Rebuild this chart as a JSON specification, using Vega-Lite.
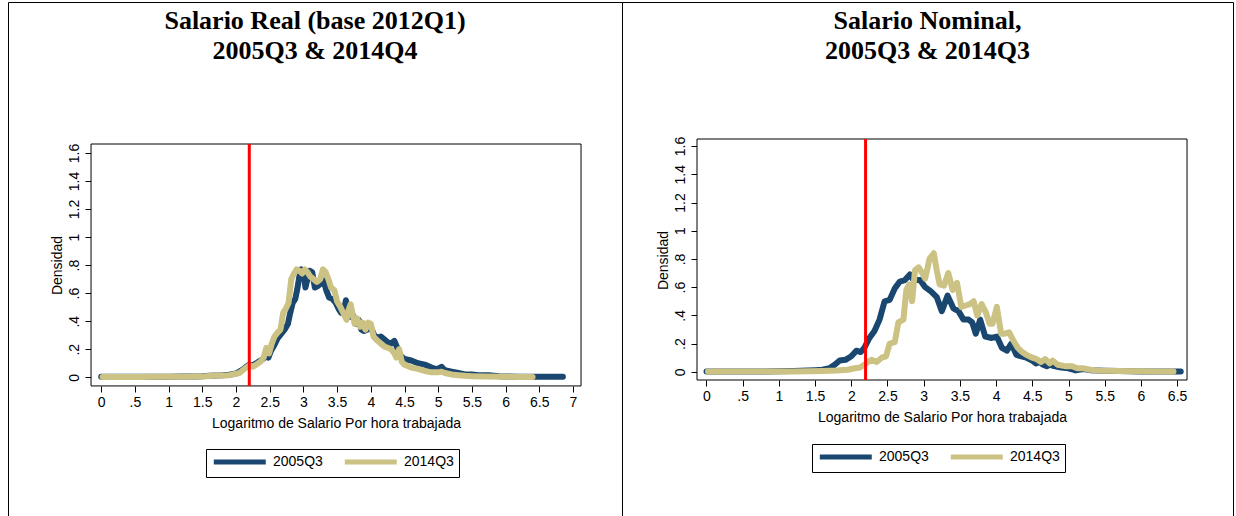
{
  "$schema": "https://vega.github.io/schema/vega-lite/v6.json",
  "background": "white",
  "padding": {"left": 7, "top": 1, "right": 4, "bottom": -2},
  "spacing": 0,
  "bounds": "flush",
  "datasets": {
    "real": [
      {"x": 0, "densidad": 0.003, "periodo": "2005Q3"}, {"x": 0.2, "densidad": 0.003, "periodo": "2005Q3"}, {"x": 0.4, "densidad": 0.003, "periodo": "2005Q3"}, {"x": 0.6, "densidad": 0.003, "periodo": "2005Q3"}, {"x": 0.8, "densidad": 0.003, "periodo": "2005Q3"}, {"x": 1.0, "densidad": 0.004, "periodo": "2005Q3"}, {"x": 1.2, "densidad": 0.005, "periodo": "2005Q3"}, {"x": 1.4, "densidad": 0.006, "periodo": "2005Q3"}, {"x": 1.5, "densidad": 0.007, "periodo": "2005Q3"}, {"x": 1.6, "densidad": 0.011, "periodo": "2005Q3"}, {"x": 1.7, "densidad": 0.013, "periodo": "2005Q3"}, {"x": 1.8, "densidad": 0.014, "periodo": "2005Q3"}, {"x": 1.9, "densidad": 0.018, "periodo": "2005Q3"}, {"x": 2.0, "densidad": 0.027, "periodo": "2005Q3"}, {"x": 2.05, "densidad": 0.04, "periodo": "2005Q3"}, {"x": 2.1, "densidad": 0.055, "periodo": "2005Q3"}, {"x": 2.15, "densidad": 0.075, "periodo": "2005Q3"}, {"x": 2.2, "densidad": 0.09, "periodo": "2005Q3"}, {"x": 2.25, "densidad": 0.085, "periodo": "2005Q3"}, {"x": 2.3, "densidad": 0.1, "periodo": "2005Q3"}, {"x": 2.35, "densidad": 0.115, "periodo": "2005Q3"}, {"x": 2.4, "densidad": 0.13, "periodo": "2005Q3"}, {"x": 2.45, "densidad": 0.16, "periodo": "2005Q3"}, {"x": 2.48, "densidad": 0.14, "periodo": "2005Q3"}, {"x": 2.52, "densidad": 0.19, "periodo": "2005Q3"}, {"x": 2.57, "densidad": 0.23, "periodo": "2005Q3"}, {"x": 2.62, "densidad": 0.28, "periodo": "2005Q3"}, {"x": 2.67, "densidad": 0.31, "periodo": "2005Q3"}, {"x": 2.72, "densidad": 0.34, "periodo": "2005Q3"}, {"x": 2.77, "densidad": 0.38, "periodo": "2005Q3"}, {"x": 2.8, "densidad": 0.45, "periodo": "2005Q3"}, {"x": 2.84, "densidad": 0.53, "periodo": "2005Q3"}, {"x": 2.88, "densidad": 0.56, "periodo": "2005Q3"}, {"x": 2.91, "densidad": 0.63, "periodo": "2005Q3"}, {"x": 2.94, "densidad": 0.72, "periodo": "2005Q3"}, {"x": 2.97, "densidad": 0.77, "periodo": "2005Q3"}, {"x": 3.0, "densidad": 0.76, "periodo": "2005Q3"}, {"x": 3.03, "densidad": 0.64, "periodo": "2005Q3"}, {"x": 3.06, "densidad": 0.7, "periodo": "2005Q3"}, {"x": 3.09, "densidad": 0.76, "periodo": "2005Q3"}, {"x": 3.13, "densidad": 0.75, "periodo": "2005Q3"}, {"x": 3.17, "densidad": 0.64, "periodo": "2005Q3"}, {"x": 3.21, "densidad": 0.65, "periodo": "2005Q3"}, {"x": 3.26, "densidad": 0.67, "periodo": "2005Q3"}, {"x": 3.3, "densidad": 0.69, "periodo": "2005Q3"}, {"x": 3.34, "densidad": 0.62, "periodo": "2005Q3"}, {"x": 3.38, "densidad": 0.57, "periodo": "2005Q3"}, {"x": 3.43, "densidad": 0.56, "periodo": "2005Q3"}, {"x": 3.48, "densidad": 0.53, "periodo": "2005Q3"}, {"x": 3.52, "densidad": 0.49, "periodo": "2005Q3"}, {"x": 3.56, "densidad": 0.46, "periodo": "2005Q3"}, {"x": 3.6, "densidad": 0.47, "periodo": "2005Q3"}, {"x": 3.63, "densidad": 0.55, "periodo": "2005Q3"}, {"x": 3.66, "densidad": 0.48, "periodo": "2005Q3"}, {"x": 3.7, "densidad": 0.43, "periodo": "2005Q3"}, {"x": 3.74, "densidad": 0.44, "periodo": "2005Q3"}, {"x": 3.78, "densidad": 0.38, "periodo": "2005Q3"}, {"x": 3.82, "densidad": 0.41, "periodo": "2005Q3"}, {"x": 3.86, "densidad": 0.34, "periodo": "2005Q3"}, {"x": 3.9, "densidad": 0.33, "periodo": "2005Q3"}, {"x": 3.95, "densidad": 0.34, "periodo": "2005Q3"}, {"x": 4.0, "densidad": 0.36, "periodo": "2005Q3"}, {"x": 4.05, "densidad": 0.3, "periodo": "2005Q3"}, {"x": 4.1, "densidad": 0.28, "periodo": "2005Q3"}, {"x": 4.15, "densidad": 0.29, "periodo": "2005Q3"}, {"x": 4.2, "densidad": 0.27, "periodo": "2005Q3"}, {"x": 4.25, "densidad": 0.25, "periodo": "2005Q3"}, {"x": 4.3, "densidad": 0.24, "periodo": "2005Q3"}, {"x": 4.35, "densidad": 0.26, "periodo": "2005Q3"}, {"x": 4.4, "densidad": 0.2, "periodo": "2005Q3"}, {"x": 4.45, "densidad": 0.15, "periodo": "2005Q3"}, {"x": 4.5, "densidad": 0.13, "periodo": "2005Q3"}, {"x": 4.6, "densidad": 0.12, "periodo": "2005Q3"}, {"x": 4.7, "densidad": 0.1, "periodo": "2005Q3"}, {"x": 4.8, "densidad": 0.09, "periodo": "2005Q3"}, {"x": 4.9, "densidad": 0.07, "periodo": "2005Q3"}, {"x": 4.95, "densidad": 0.06, "periodo": "2005Q3"}, {"x": 5.0, "densidad": 0.06, "periodo": "2005Q3"}, {"x": 5.05, "densidad": 0.075, "periodo": "2005Q3"}, {"x": 5.1, "densidad": 0.05, "periodo": "2005Q3"}, {"x": 5.2, "densidad": 0.04, "periodo": "2005Q3"}, {"x": 5.3, "densidad": 0.03, "periodo": "2005Q3"}, {"x": 5.4, "densidad": 0.02, "periodo": "2005Q3"}, {"x": 5.5, "densidad": 0.02, "periodo": "2005Q3"}, {"x": 5.6, "densidad": 0.015, "periodo": "2005Q3"}, {"x": 5.75, "densidad": 0.015, "periodo": "2005Q3"}, {"x": 5.9, "densidad": 0.008, "periodo": "2005Q3"}, {"x": 6.0, "densidad": 0.006, "periodo": "2005Q3"}, {"x": 6.2, "densidad": 0.004, "periodo": "2005Q3"}, {"x": 6.4, "densidad": 0.003, "periodo": "2005Q3"}, {"x": 6.6, "densidad": 0.003, "periodo": "2005Q3"}, {"x": 6.85, "densidad": 0.003, "periodo": "2005Q3"},
      {"x": 0.02, "densidad": 0.002, "periodo": "2014Q3"}, {"x": 0.2, "densidad": 0.002, "periodo": "2014Q3"}, {"x": 0.4, "densidad": 0.002, "periodo": "2014Q3"}, {"x": 0.6, "densidad": 0.002, "periodo": "2014Q3"}, {"x": 0.8, "densidad": 0.003, "periodo": "2014Q3"}, {"x": 1.0, "densidad": 0.003, "periodo": "2014Q3"}, {"x": 1.2, "densidad": 0.004, "periodo": "2014Q3"}, {"x": 1.4, "densidad": 0.005, "periodo": "2014Q3"}, {"x": 1.5, "densidad": 0.006, "periodo": "2014Q3"}, {"x": 1.6, "densidad": 0.009, "periodo": "2014Q3"}, {"x": 1.7, "densidad": 0.012, "periodo": "2014Q3"}, {"x": 1.8, "densidad": 0.013, "periodo": "2014Q3"}, {"x": 1.9, "densidad": 0.015, "periodo": "2014Q3"}, {"x": 2.0, "densidad": 0.025, "periodo": "2014Q3"}, {"x": 2.05, "densidad": 0.03, "periodo": "2014Q3"}, {"x": 2.1, "densidad": 0.05, "periodo": "2014Q3"}, {"x": 2.15, "densidad": 0.07, "periodo": "2014Q3"}, {"x": 2.2, "densidad": 0.085, "periodo": "2014Q3"}, {"x": 2.25, "densidad": 0.075, "periodo": "2014Q3"}, {"x": 2.3, "densidad": 0.09, "periodo": "2014Q3"}, {"x": 2.36, "densidad": 0.11, "periodo": "2014Q3"}, {"x": 2.41, "densidad": 0.14, "periodo": "2014Q3"}, {"x": 2.45, "densidad": 0.21, "periodo": "2014Q3"}, {"x": 2.49, "densidad": 0.17, "periodo": "2014Q3"}, {"x": 2.53, "densidad": 0.24, "periodo": "2014Q3"}, {"x": 2.57, "densidad": 0.29, "periodo": "2014Q3"}, {"x": 2.62, "densidad": 0.32, "periodo": "2014Q3"}, {"x": 2.66, "densidad": 0.34, "periodo": "2014Q3"}, {"x": 2.7, "densidad": 0.46, "periodo": "2014Q3"}, {"x": 2.74, "densidad": 0.49, "periodo": "2014Q3"}, {"x": 2.78, "densidad": 0.53, "periodo": "2014Q3"}, {"x": 2.82, "densidad": 0.7, "periodo": "2014Q3"}, {"x": 2.86, "densidad": 0.74, "periodo": "2014Q3"}, {"x": 2.9, "densidad": 0.77, "periodo": "2014Q3"}, {"x": 2.94, "densidad": 0.76, "periodo": "2014Q3"}, {"x": 2.98, "densidad": 0.74, "periodo": "2014Q3"}, {"x": 3.02, "densidad": 0.77, "periodo": "2014Q3"}, {"x": 3.06, "densidad": 0.75, "periodo": "2014Q3"}, {"x": 3.1, "densidad": 0.72, "periodo": "2014Q3"}, {"x": 3.15, "densidad": 0.7, "periodo": "2014Q3"}, {"x": 3.2, "densidad": 0.68, "periodo": "2014Q3"}, {"x": 3.25, "densidad": 0.7, "periodo": "2014Q3"}, {"x": 3.29, "densidad": 0.77, "periodo": "2014Q3"}, {"x": 3.33, "densidad": 0.75, "periodo": "2014Q3"}, {"x": 3.37, "densidad": 0.7, "periodo": "2014Q3"}, {"x": 3.41, "densidad": 0.64, "periodo": "2014Q3"}, {"x": 3.46, "densidad": 0.62, "periodo": "2014Q3"}, {"x": 3.5, "densidad": 0.54, "periodo": "2014Q3"}, {"x": 3.55, "densidad": 0.5, "periodo": "2014Q3"}, {"x": 3.6, "densidad": 0.45, "periodo": "2014Q3"}, {"x": 3.64, "densidad": 0.41, "periodo": "2014Q3"}, {"x": 3.67, "densidad": 0.48, "periodo": "2014Q3"}, {"x": 3.7, "densidad": 0.52, "periodo": "2014Q3"}, {"x": 3.73, "densidad": 0.45, "periodo": "2014Q3"}, {"x": 3.76, "densidad": 0.38, "periodo": "2014Q3"}, {"x": 3.8, "densidad": 0.42, "periodo": "2014Q3"}, {"x": 3.84, "densidad": 0.36, "periodo": "2014Q3"}, {"x": 3.88, "densidad": 0.39, "periodo": "2014Q3"}, {"x": 3.92, "densidad": 0.34, "periodo": "2014Q3"}, {"x": 3.96, "densidad": 0.39, "periodo": "2014Q3"}, {"x": 4.0, "densidad": 0.38, "periodo": "2014Q3"}, {"x": 4.04, "densidad": 0.29, "periodo": "2014Q3"}, {"x": 4.1, "densidad": 0.26, "periodo": "2014Q3"}, {"x": 4.15, "densidad": 0.24, "periodo": "2014Q3"}, {"x": 4.2, "densidad": 0.22, "periodo": "2014Q3"}, {"x": 4.25, "densidad": 0.21, "periodo": "2014Q3"}, {"x": 4.3, "densidad": 0.2, "periodo": "2014Q3"}, {"x": 4.35, "densidad": 0.17, "periodo": "2014Q3"}, {"x": 4.38, "densidad": 0.14, "periodo": "2014Q3"}, {"x": 4.42, "densidad": 0.2, "periodo": "2014Q3"}, {"x": 4.46, "densidad": 0.11, "periodo": "2014Q3"}, {"x": 4.5, "densidad": 0.09, "periodo": "2014Q3"}, {"x": 4.6, "densidad": 0.07, "periodo": "2014Q3"}, {"x": 4.7, "densidad": 0.06, "periodo": "2014Q3"}, {"x": 4.8, "densidad": 0.045, "periodo": "2014Q3"}, {"x": 4.9, "densidad": 0.035, "periodo": "2014Q3"}, {"x": 5.0, "densidad": 0.035, "periodo": "2014Q3"}, {"x": 5.05, "densidad": 0.04, "periodo": "2014Q3"}, {"x": 5.1, "densidad": 0.03, "periodo": "2014Q3"}, {"x": 5.2, "densidad": 0.02, "periodo": "2014Q3"}, {"x": 5.3, "densidad": 0.015, "periodo": "2014Q3"}, {"x": 5.4, "densidad": 0.01, "periodo": "2014Q3"}, {"x": 5.5, "densidad": 0.008, "periodo": "2014Q3"}, {"x": 5.7, "densidad": 0.005, "periodo": "2014Q3"}, {"x": 6.0, "densidad": 0.003, "periodo": "2014Q3"}, {"x": 6.2, "densidad": 0.002, "periodo": "2014Q3"}, {"x": 6.4, "densidad": 0.002, "periodo": "2014Q3"}
    ],
    "nominal": [
      {"x": 0, "densidad": 0.003, "periodo": "2005Q3"}, {"x": 0.2, "densidad": 0.003, "periodo": "2005Q3"}, {"x": 0.4, "densidad": 0.003, "periodo": "2005Q3"}, {"x": 0.6, "densidad": 0.003, "periodo": "2005Q3"}, {"x": 0.8, "densidad": 0.003, "periodo": "2005Q3"}, {"x": 1.0, "densidad": 0.004, "periodo": "2005Q3"}, {"x": 1.2, "densidad": 0.006, "periodo": "2005Q3"}, {"x": 1.3, "densidad": 0.008, "periodo": "2005Q3"}, {"x": 1.4, "densidad": 0.01, "periodo": "2005Q3"}, {"x": 1.5, "densidad": 0.012, "periodo": "2005Q3"}, {"x": 1.6, "densidad": 0.015, "periodo": "2005Q3"}, {"x": 1.7, "densidad": 0.025, "periodo": "2005Q3"}, {"x": 1.77, "densidad": 0.05, "periodo": "2005Q3"}, {"x": 1.84, "densidad": 0.08, "periodo": "2005Q3"}, {"x": 1.92, "densidad": 0.085, "periodo": "2005Q3"}, {"x": 2.0, "densidad": 0.11, "periodo": "2005Q3"}, {"x": 2.07, "densidad": 0.15, "periodo": "2005Q3"}, {"x": 2.13, "densidad": 0.14, "periodo": "2005Q3"}, {"x": 2.18, "densidad": 0.17, "periodo": "2005Q3"}, {"x": 2.25, "densidad": 0.24, "periodo": "2005Q3"}, {"x": 2.32, "densidad": 0.29, "periodo": "2005Q3"}, {"x": 2.39, "densidad": 0.37, "periodo": "2005Q3"}, {"x": 2.46, "densidad": 0.5, "periodo": "2005Q3"}, {"x": 2.53, "densidad": 0.51, "periodo": "2005Q3"}, {"x": 2.6, "densidad": 0.59, "periodo": "2005Q3"}, {"x": 2.67, "densidad": 0.64, "periodo": "2005Q3"}, {"x": 2.74, "densidad": 0.65, "periodo": "2005Q3"}, {"x": 2.81, "densidad": 0.69, "periodo": "2005Q3"}, {"x": 2.86, "densidad": 0.65, "periodo": "2005Q3"}, {"x": 2.95, "densidad": 0.65, "periodo": "2005Q3"}, {"x": 3.02, "densidad": 0.6, "periodo": "2005Q3"}, {"x": 3.1, "densidad": 0.57, "periodo": "2005Q3"}, {"x": 3.18, "densidad": 0.53, "periodo": "2005Q3"}, {"x": 3.25, "densidad": 0.43, "periodo": "2005Q3"}, {"x": 3.33, "densidad": 0.54, "periodo": "2005Q3"}, {"x": 3.41, "densidad": 0.45, "periodo": "2005Q3"}, {"x": 3.48, "densidad": 0.43, "periodo": "2005Q3"}, {"x": 3.55, "densidad": 0.37, "periodo": "2005Q3"}, {"x": 3.62, "densidad": 0.37, "periodo": "2005Q3"}, {"x": 3.67, "densidad": 0.35, "periodo": "2005Q3"}, {"x": 3.72, "densidad": 0.27, "periodo": "2005Q3"}, {"x": 3.78, "densidad": 0.37, "periodo": "2005Q3"}, {"x": 3.85, "densidad": 0.25, "periodo": "2005Q3"}, {"x": 3.94, "densidad": 0.24, "periodo": "2005Q3"}, {"x": 4.01, "densidad": 0.25, "periodo": "2005Q3"}, {"x": 4.08, "densidad": 0.17, "periodo": "2005Q3"}, {"x": 4.15, "densidad": 0.15, "periodo": "2005Q3"}, {"x": 4.21, "densidad": 0.2, "periodo": "2005Q3"}, {"x": 4.28, "densidad": 0.12, "periodo": "2005Q3"}, {"x": 4.35, "densidad": 0.11, "periodo": "2005Q3"}, {"x": 4.42, "densidad": 0.1, "periodo": "2005Q3"}, {"x": 4.5, "densidad": 0.08, "periodo": "2005Q3"}, {"x": 4.55, "densidad": 0.06, "periodo": "2005Q3"}, {"x": 4.6, "densidad": 0.07, "periodo": "2005Q3"}, {"x": 4.65, "densidad": 0.05, "periodo": "2005Q3"}, {"x": 4.7, "densidad": 0.04, "periodo": "2005Q3"}, {"x": 4.75, "densidad": 0.05, "periodo": "2005Q3"}, {"x": 4.8, "densidad": 0.04, "periodo": "2005Q3"}, {"x": 4.9, "densidad": 0.03, "periodo": "2005Q3"}, {"x": 5.0, "densidad": 0.025, "periodo": "2005Q3"}, {"x": 5.1, "densidad": 0.01, "periodo": "2005Q3"}, {"x": 5.2, "densidad": 0.02, "periodo": "2005Q3"}, {"x": 5.3, "densidad": 0.012, "periodo": "2005Q3"}, {"x": 5.4, "densidad": 0.01, "periodo": "2005Q3"}, {"x": 5.5, "densidad": 0.008, "periodo": "2005Q3"}, {"x": 5.7, "densidad": 0.005, "periodo": "2005Q3"}, {"x": 6.0, "densidad": 0.003, "periodo": "2005Q3"}, {"x": 6.2, "densidad": 0.003, "periodo": "2005Q3"}, {"x": 6.4, "densidad": 0.003, "periodo": "2005Q3"}, {"x": 6.55, "densidad": 0.003, "periodo": "2005Q3"},
      {"x": 0.02, "densidad": 0.002, "periodo": "2014Q3"}, {"x": 0.2, "densidad": 0.002, "periodo": "2014Q3"}, {"x": 0.4, "densidad": 0.002, "periodo": "2014Q3"}, {"x": 0.6, "densidad": 0.002, "periodo": "2014Q3"}, {"x": 0.8, "densidad": 0.002, "periodo": "2014Q3"}, {"x": 1.0, "densidad": 0.003, "periodo": "2014Q3"}, {"x": 1.2, "densidad": 0.003, "periodo": "2014Q3"}, {"x": 1.4, "densidad": 0.004, "periodo": "2014Q3"}, {"x": 1.6, "densidad": 0.006, "periodo": "2014Q3"}, {"x": 1.8, "densidad": 0.01, "periodo": "2014Q3"}, {"x": 1.95, "densidad": 0.015, "periodo": "2014Q3"}, {"x": 2.05, "densidad": 0.025, "periodo": "2014Q3"}, {"x": 2.12, "densidad": 0.03, "periodo": "2014Q3"}, {"x": 2.18, "densidad": 0.05, "periodo": "2014Q3"}, {"x": 2.23, "densidad": 0.07, "periodo": "2014Q3"}, {"x": 2.28, "densidad": 0.085, "periodo": "2014Q3"}, {"x": 2.35, "densidad": 0.07, "periodo": "2014Q3"}, {"x": 2.42, "densidad": 0.1, "periodo": "2014Q3"}, {"x": 2.48, "densidad": 0.11, "periodo": "2014Q3"}, {"x": 2.53, "densidad": 0.2, "periodo": "2014Q3"}, {"x": 2.6, "densidad": 0.21, "periodo": "2014Q3"}, {"x": 2.65, "densidad": 0.35, "periodo": "2014Q3"}, {"x": 2.72, "densidad": 0.37, "periodo": "2014Q3"}, {"x": 2.76, "densidad": 0.58, "periodo": "2014Q3"}, {"x": 2.8, "densidad": 0.62, "periodo": "2014Q3"}, {"x": 2.84, "densidad": 0.5, "periodo": "2014Q3"}, {"x": 2.88, "densidad": 0.72, "periodo": "2014Q3"}, {"x": 2.93, "densidad": 0.74, "periodo": "2014Q3"}, {"x": 2.98, "densidad": 0.7, "periodo": "2014Q3"}, {"x": 3.02, "densidad": 0.66, "periodo": "2014Q3"}, {"x": 3.08, "densidad": 0.8, "periodo": "2014Q3"}, {"x": 3.14, "densidad": 0.84, "periodo": "2014Q3"}, {"x": 3.18, "densidad": 0.72, "periodo": "2014Q3"}, {"x": 3.22, "densidad": 0.62, "periodo": "2014Q3"}, {"x": 3.28, "densidad": 0.61, "periodo": "2014Q3"}, {"x": 3.34, "densidad": 0.7, "periodo": "2014Q3"}, {"x": 3.4, "densidad": 0.58, "periodo": "2014Q3"}, {"x": 3.46, "densidad": 0.63, "periodo": "2014Q3"}, {"x": 3.52, "densidad": 0.46, "periodo": "2014Q3"}, {"x": 3.58, "densidad": 0.47, "periodo": "2014Q3"}, {"x": 3.64, "densidad": 0.48, "periodo": "2014Q3"}, {"x": 3.69, "densidad": 0.5, "periodo": "2014Q3"}, {"x": 3.74, "densidad": 0.4, "periodo": "2014Q3"}, {"x": 3.8, "densidad": 0.48, "periodo": "2014Q3"}, {"x": 3.86, "densidad": 0.42, "periodo": "2014Q3"}, {"x": 3.91, "densidad": 0.34, "periodo": "2014Q3"}, {"x": 3.95, "densidad": 0.34, "periodo": "2014Q3"}, {"x": 4.01, "densidad": 0.46, "periodo": "2014Q3"}, {"x": 4.07, "densidad": 0.27, "periodo": "2014Q3"}, {"x": 4.12, "densidad": 0.27, "periodo": "2014Q3"}, {"x": 4.18, "densidad": 0.28, "periodo": "2014Q3"}, {"x": 4.24, "densidad": 0.22, "periodo": "2014Q3"}, {"x": 4.3, "densidad": 0.17, "periodo": "2014Q3"}, {"x": 4.36, "densidad": 0.14, "periodo": "2014Q3"}, {"x": 4.42, "densidad": 0.12, "periodo": "2014Q3"}, {"x": 4.5, "densidad": 0.1, "periodo": "2014Q3"}, {"x": 4.56, "densidad": 0.09, "periodo": "2014Q3"}, {"x": 4.62, "densidad": 0.07, "periodo": "2014Q3"}, {"x": 4.68, "densidad": 0.09, "periodo": "2014Q3"}, {"x": 4.74, "densidad": 0.06, "periodo": "2014Q3"}, {"x": 4.78, "densidad": 0.08, "periodo": "2014Q3"}, {"x": 4.85, "densidad": 0.05, "periodo": "2014Q3"}, {"x": 4.95, "densidad": 0.04, "periodo": "2014Q3"}, {"x": 5.05, "densidad": 0.04, "periodo": "2014Q3"}, {"x": 5.12, "densidad": 0.025, "periodo": "2014Q3"}, {"x": 5.2, "densidad": 0.025, "periodo": "2014Q3"}, {"x": 5.3, "densidad": 0.015, "periodo": "2014Q3"}, {"x": 5.4, "densidad": 0.01, "periodo": "2014Q3"}, {"x": 5.5, "densidad": 0.008, "periodo": "2014Q3"}, {"x": 5.7, "densidad": 0.006, "periodo": "2014Q3"}, {"x": 6.0, "densidad": 0.004, "periodo": "2014Q3"}, {"x": 6.2, "densidad": 0.003, "periodo": "2014Q3"}, {"x": 6.45, "densidad": 0.003, "periodo": "2014Q3"}
    ]
  },
  "hconcat": [
    {
      "width": 614,
      "height": 516,
      "title": {
        "text": ["Salario Real (base 2012Q1)", "2005Q3 & 2014Q4"],
        "offset": -62
      },
      "layer": [
        {
          "data": {"values": [{}]},
          "mark": {"type": "rect", "fill": "white", "stroke": "black", "strokeWidth": 1},
          "encoding": {
            "x": {
              "datum": -0.151, "type": "quantitative",
              "scale": {"domain": [-1.383, 7.727], "nice": false, "zero": false},
              "axis": {
                "offset": -132,
                "values": [0, 0.5, 1, 1.5, 2, 2.5, 3, 3.5, 4, 4.5, 5, 5.5, 6, 6.5, 7],
                "title": "Logaritmo de Salario Por hora trabajada",
                "titleX": 328
              }
            },
            "x2": {"datum": 7.119},
            "y": {
              "datum": -0.062, "type": "quantitative",
              "scale": {"domain": [-1.004, 2.677], "nice": false, "zero": false},
              "axis": {
                "offset": -83,
                "values": [0, 0.2, 0.4, 0.6, 0.8, 1, 1.2, 1.4, 1.6],
                "title": "Densidad",
                "titleY": 263
              }
            },
            "y2": {"datum": 1.664}
          }
        },
        {
          "data": {"name": "real"},
          "mark": {"type": "line", "strokeWidth": 6, "strokeCap": "round", "strokeJoin": "round"},
          "encoding": {
            "x": {"field": "x", "type": "quantitative"},
            "y": {"field": "densidad", "type": "quantitative"},
            "color": {
              "field": "periodo", "type": "nominal",
              "scale": {"domain": ["2005Q3", "2014Q3"], "range": ["#1a476f", "#cbc283"]},
              "legend": {"legendX": 198, "legendY": 447}
            }
          }
        },
        {
          "data": {"values": [{}]},
          "mark": {"type": "rule", "color": "#ff0000", "strokeWidth": 3},
          "encoding": {
            "x": {"datum": 2.197, "type": "quantitative"},
            "y": {"datum": -0.062, "type": "quantitative"},
            "y2": {"datum": 1.664}
          }
        }
      ]
    },
    {
      "width": 611,
      "height": 516,
      "title": {
        "text": ["Salario Nominal,", "2005Q3 & 2014Q3"],
        "offset": -62
      },
      "layer": [
        {
          "data": {"values": [{}]},
          "mark": {"type": "rect", "fill": "white", "stroke": "black", "strokeWidth": 1},
          "encoding": {
            "x": {
              "datum": -0.131, "type": "quantitative",
              "scale": {"domain": [-1.167, 7.272], "nice": false, "zero": false},
              "axis": {
                "offset": -138,
                "values": [0, 0.5, 1, 1.5, 2, 2.5, 3, 3.5, 4, 4.5, 5, 5.5, 6, 6.5],
                "title": "Logaritmo de Salario Por hora trabajada",
                "titleX": 320
              }
            },
            "x2": {"datum": 6.637},
            "y": {
              "datum": -0.058, "type": "quantitative",
              "scale": {"domain": [-1.036, 2.621], "nice": false, "zero": false},
              "axis": {
                "offset": -75,
                "values": [0, 0.2, 0.4, 0.6, 0.8, 1, 1.2, 1.4, 1.6],
                "title": "Densidad",
                "titleY": 258
              }
            },
            "y2": {"datum": 1.65}
          }
        },
        {
          "data": {"name": "nominal"},
          "mark": {"type": "line", "strokeWidth": 6, "strokeCap": "round", "strokeJoin": "round"},
          "encoding": {
            "x": {"field": "x", "type": "quantitative"},
            "y": {"field": "densidad", "type": "quantitative"},
            "color": {
              "field": "periodo", "type": "nominal",
              "scale": {"domain": ["2005Q3", "2014Q3"], "range": ["#1a476f", "#cbc283"]},
              "legend": {"legendX": 190, "legendY": 442}
            }
          }
        },
        {
          "data": {"values": [{}]},
          "mark": {"type": "rule", "color": "#ff0000", "strokeWidth": 3},
          "encoding": {
            "x": {"datum": 2.197, "type": "quantitative"},
            "y": {"datum": -0.058, "type": "quantitative"},
            "y2": {"datum": 1.65}
          }
        }
      ]
    }
  ],
  "resolve": {"scale": {"color": "independent"}, "legend": {"color": "independent"}},
  "config": {
    "view": {"stroke": "black", "strokeWidth": 1},
    "title": {
      "font": "Liberation Serif",
      "fontSize": 26,
      "fontWeight": "bold",
      "color": "black",
      "anchor": "middle",
      "frame": "group",
      "lineHeight": 30
    },
    "axis": {
      "domain": false,
      "grid": false,
      "ticks": true,
      "tickSize": 6,
      "tickColor": "black",
      "tickWidth": 1,
      "labelFont": "Liberation Sans",
      "labelFontSize": 14,
      "labelColor": "black",
      "labelOverlap": false,
      "labelFlush": false,
      "labelExpr": "datum.value == 0 ? '0' : (datum.value < 1 ? replace(format(datum.value, '.1f'), '0.', '.') : format(datum.value, '~g'))",
      "titleFont": "Liberation Sans",
      "titleFontSize": 14,
      "titleFontWeight": "normal",
      "titleColor": "black"
    },
    "axisX": {"labelPadding": 3, "titlePadding": 7},
    "axisY": {"labelAngle": 270, "labelAlign": "center", "labelBaseline": "bottom", "labelPadding": 4, "titlePadding": 3},
    "legend": {
      "orient": "none",
      "direction": "horizontal",
      "title": null,
      "strokeColor": "black",
      "fillColor": "white",
      "padding": 5,
      "symbolType": "M-1,0H9",
      "symbolSize": 108,
      "symbolStrokeWidth": 5,
      "labelFont": "Liberation Sans",
      "labelFontSize": 14,
      "labelColor": "black",
      "labelOffset": 46,
      "columnPadding": 11
    }
  }
}
